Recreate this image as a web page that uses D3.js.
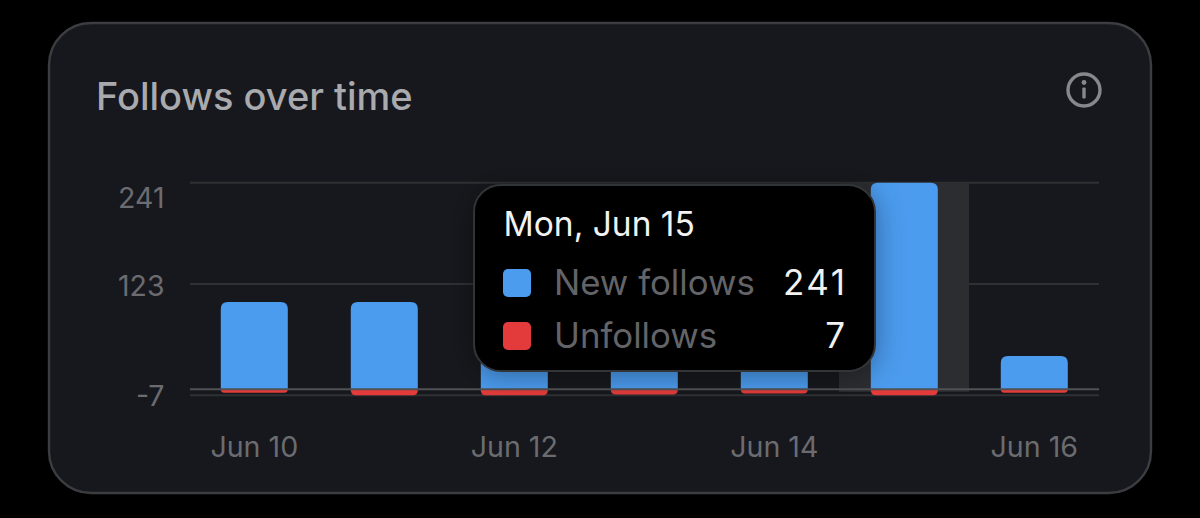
<!DOCTYPE html>
<html><head><meta charset="utf-8">
<script src="https://cdn.jsdelivr.net/npm/d3@7"></script>
<style>html,body{margin:0;padding:0;background:#000}svg{display:block}text{font-family:"Inter","Roboto",sans-serif}</style>
</head><body><svg id="c" width="1200" height="518"></svg>
<script>
const days = ["Jun 10","Jun 11","Jun 12","Jun 13","Jun 14","Jun 15","Jun 16"];
const newFollows = [102,102,100,100,100,241,39];
const unfollows = [4,7,7,6,5,7,4];
const yTicks = [241,123,-7];
const xTickLabels = ["Jun 10","Jun 12","Jun 14","Jun 16"];
const highlightedDay = "Jun 15";
const tooltipTitle = "Mon, Jun 15";
const legendNames = ["New follows","Unfollows"];
const legendValues = [241,7];
const legendColors = ["#4b9bee","#e33b3b"];

const svg = d3.select("#c");
const defs = svg.append("defs");
const f = defs.append("filter").attr("id","sh").attr("x","-20%").attr("y","-20%").attr("width","140%").attr("height","140%");
f.append("feDropShadow").attr("dx",0).attr("dy",4).attr("stdDeviation",14).attr("flood-color","#000").attr("flood-opacity",0.35);

// card
svg.append("rect").attr("x",49).attr("y",23).attr("width",1102).attr("height",470).attr("rx",42)
  .attr("fill","#17181d").attr("stroke","#3c3d41").attr("stroke-width",2.4);
svg.append("text").attr("x",96).attr("y",110).attr("font-size",38).attr("font-weight",500).attr("fill","#a9aaae").text("Follows over time");

// info icon
const info = svg.append("g").attr("transform","translate(1084,90)");
info.append("circle").attr("r",16).attr("fill","none").attr("stroke","#87888b").attr("stroke-width",3.4);
info.append("circle").attr("cy",-7.5).attr("r",2.4).attr("fill","#87888b");
info.append("rect").attr("x",-1.7).attr("y",-2.5).attr("width",3.4).attr("height",11).attr("rx",1).attr("fill","#87888b");

// scales
const y = d3.scaleLinear().domain([-7,241]).range([395.3,182.8]);
const x = d3.scaleBand().domain(days).range([189.3,1099.3]).paddingInner(0.4846).paddingOuter(0.2423);
const hx = d3.scaleBand().domain(days).range([189,1099]);

// grid
const gridColor = "#2f3034";
svg.append("g").selectAll("line").data(yTicks).join("line")
  .attr("x1",190).attr("x2",1099).attr("y1",d=>y(d)).attr("y2",d=>y(d))
  .attr("stroke",gridColor).attr("stroke-width",2);

// highlight band
svg.append("rect").attr("x",hx(highlightedDay)).attr("width",hx.bandwidth())
  .attr("y",y(241)).attr("height",y(-3)-y(241)).attr("fill","#2c2d31");

// y axis
const yAxis = d3.axisLeft(y).tickValues(yTicks).tickSize(0).tickPadding(0).tickFormat(String);
const yg = svg.append("g").attr("transform","translate(164.5,0)").call(yAxis);
yg.select(".domain").remove();
yg.selectAll("text").attr("font-size",28.5).attr("fill","#6b6c70").style("font-family","Inter,Roboto,sans-serif")
  .attr("dy",d=>d===241?"0.86em":d===123?"0.42em":"0.36em");

// x axis
const xAxis = d3.axisBottom(x).tickValues(xTickLabels).tickSize(0).tickPadding(0);
const xg = svg.append("g").attr("transform","translate(0,436)").call(xAxis);
xg.select(".domain").remove();
xg.selectAll("text").attr("font-size",28.6).attr("fill","#6b6c70").style("font-family","Inter,Roboto,sans-serif").attr("dy","0.73em");

// bars
function topRounded(x0,x1,yt,yb,r){r=Math.min(r,yb-yt);return `M${x0},${yb}V${yt+r}Q${x0},${yt} ${x0+r},${yt}H${x1-r}Q${x1},${yt} ${x1},${yt+r}V${yb}Z`;}
function botRounded(x0,x1,yt,yb,r){r=Math.min(r,yb-yt);return `M${x0},${yt}V${yb-r}Q${x0},${yb} ${x0+r},${yb}H${x1-r}Q${x1},${yb} ${x1},${yb-r}V${yt}Z`;}
svg.append("g").selectAll("path").data(days).join("path")
  .attr("fill",legendColors[0])
  .attr("d",(d,i)=>topRounded(x(d),x(d)+x.bandwidth(),y(newFollows[i]),y(0),7));
svg.append("g").selectAll("path").data(days).join("path")
  .attr("fill",legendColors[1])
  .attr("d",(d,i)=>botRounded(x(d),x(d)+x.bandwidth(),y(0),y(-unfollows[i]),5));

// zero line
svg.append("line").attr("x1",190).attr("x2",1099).attr("y1",y(0)).attr("y2",y(0))
  .attr("stroke","#505155").attr("stroke-width",2);

// tooltip
const tip = svg.append("g");
tip.append("rect").attr("x",474).attr("y",185).attr("width",401).attr("height",186).attr("rx",27)
  .attr("fill","#000").attr("stroke","#333438").attr("stroke-width",2).attr("filter","url(#sh)");
tip.append("text").attr("x",503.5).attr("y",236).attr("font-size",33.5).attr("fill","#f2f2f2").text(tooltipTitle);
const rowY = d3.scalePoint().domain(legendNames).range([283,336]);
const row = tip.selectAll("g.row").data(legendNames).join("g").attr("class","row")
  .attr("transform",d=>`translate(0,${rowY(d)})`);
row.append("rect").attr("x",503).attr("y",-14).attr("width",28).attr("height",28).attr("rx",5)
  .attr("fill",(d,i)=>legendColors[i]);
row.append("text").attr("x",554).attr("y",12).attr("font-size",34.8).attr("fill","#636468").text(d=>d);
row.append("text").attr("x",847.5).attr("y",12).attr("text-anchor","end").attr("font-size",35).attr("letter-spacing",2.5).attr("fill","#f2f2f2").text((d,i)=>legendValues[i]);
</script></body></html>
